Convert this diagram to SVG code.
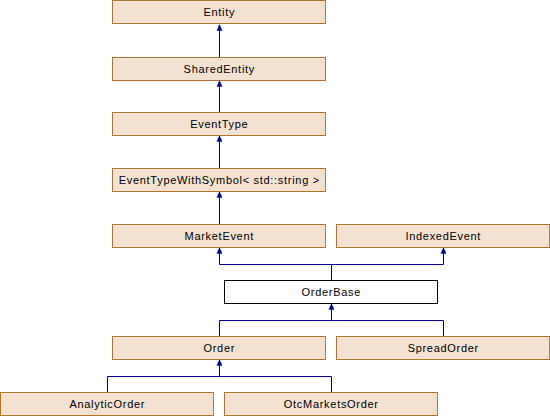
<svg xmlns="http://www.w3.org/2000/svg" width="550" height="416" viewBox="0 0 550 416">
<style>
.n rect{fill:#f3e2d1;stroke:#b57332;stroke-width:1}
.n.w rect{fill:#ffffff;stroke:#000000}
.n text{font-family:"Liberation Sans",Arial,sans-serif;font-size:11px;letter-spacing:0.7px;fill:#000;text-anchor:middle}
.e{fill:none;stroke:#000090;stroke-width:1}
.h{fill:#000090;stroke:#000090;stroke-width:0.5}
</style>
<defs>
<path id="ah" class="h" d="M0,0 L2.5,6 L-2.5,6 Z"/>
</defs>
<rect width="550" height="416" fill="#ffffff"/>
<g id="connectors">
<path class="e" d="M219.5,57 V28"/>
<path class="e" d="M219.5,112 V84"/>
<path class="e" d="M219.5,168 V139"/>
<path class="e" d="M219.5,224 V195"/>
<path class="e" d="M331.5,280 V264.5 H219.5 V251"/>
<path class="e" d="M331.5,264.5 H443.5 V251"/>
<path class="e" d="M219.5,336 V320.5 H331.5 V307"/>
<path class="e" d="M443.5,336 V320.5 H331.5"/>
<path class="e" d="M107.5,392 V376.5 H219.5 V363"/>
<path class="e" d="M331.5,392 V376.5 H219.5"/>
<use href="#ah" x="219.5" y="24.5"/>
<use href="#ah" x="219.5" y="80.5"/>
<use href="#ah" x="219.5" y="135.5"/>
<use href="#ah" x="219.5" y="191.5"/>
<use href="#ah" x="219.5" y="247.5"/>
<use href="#ah" x="443.5" y="247.5"/>
<use href="#ah" x="331.5" y="303.5"/>
<use href="#ah" x="219.5" y="359.5"/>
</g>
<g id="Entity" class="n"><rect x="112.5" y="0.5" width="213" height="23"/><text x="219.3" y="16">Entity</text></g>
<g id="SharedEntity" class="n"><rect x="112.5" y="57.5" width="213" height="23"/><text x="219.3" y="73">SharedEntity</text></g>
<g id="EventType" class="n"><rect x="112.5" y="112.5" width="213" height="23"/><text x="219.3" y="128">EventType</text></g>
<g id="EventTypeWithSymbol" class="n"><rect x="112.5" y="168.5" width="213" height="23"/><text x="219.3" y="184">EventTypeWithSymbol&lt; std::string &gt;</text></g>
<g id="MarketEvent" class="n"><rect x="112.5" y="224.5" width="213" height="23"/><text x="219.3" y="240">MarketEvent</text></g>
<g id="IndexedEvent" class="n"><rect x="336.5" y="224.5" width="213" height="23"/><text x="443.3" y="240">IndexedEvent</text></g>
<g id="OrderBase" class="n w"><rect x="224.5" y="280.5" width="213" height="23"/><text x="331.3" y="296">OrderBase</text></g>
<g id="Order" class="n"><rect x="112.5" y="336.5" width="213" height="23"/><text x="219.3" y="352">Order</text></g>
<g id="SpreadOrder" class="n"><rect x="336.5" y="336.5" width="213" height="23"/><text x="443.3" y="352">SpreadOrder</text></g>
<g id="AnalyticOrder" class="n"><rect x="0.5" y="392.5" width="213" height="23"/><text x="107.3" y="408">AnalyticOrder</text></g>
<g id="OtcMarketsOrder" class="n"><rect x="224.5" y="392.5" width="213" height="23"/><text x="331.3" y="408">OtcMarketsOrder</text></g>
</svg>
